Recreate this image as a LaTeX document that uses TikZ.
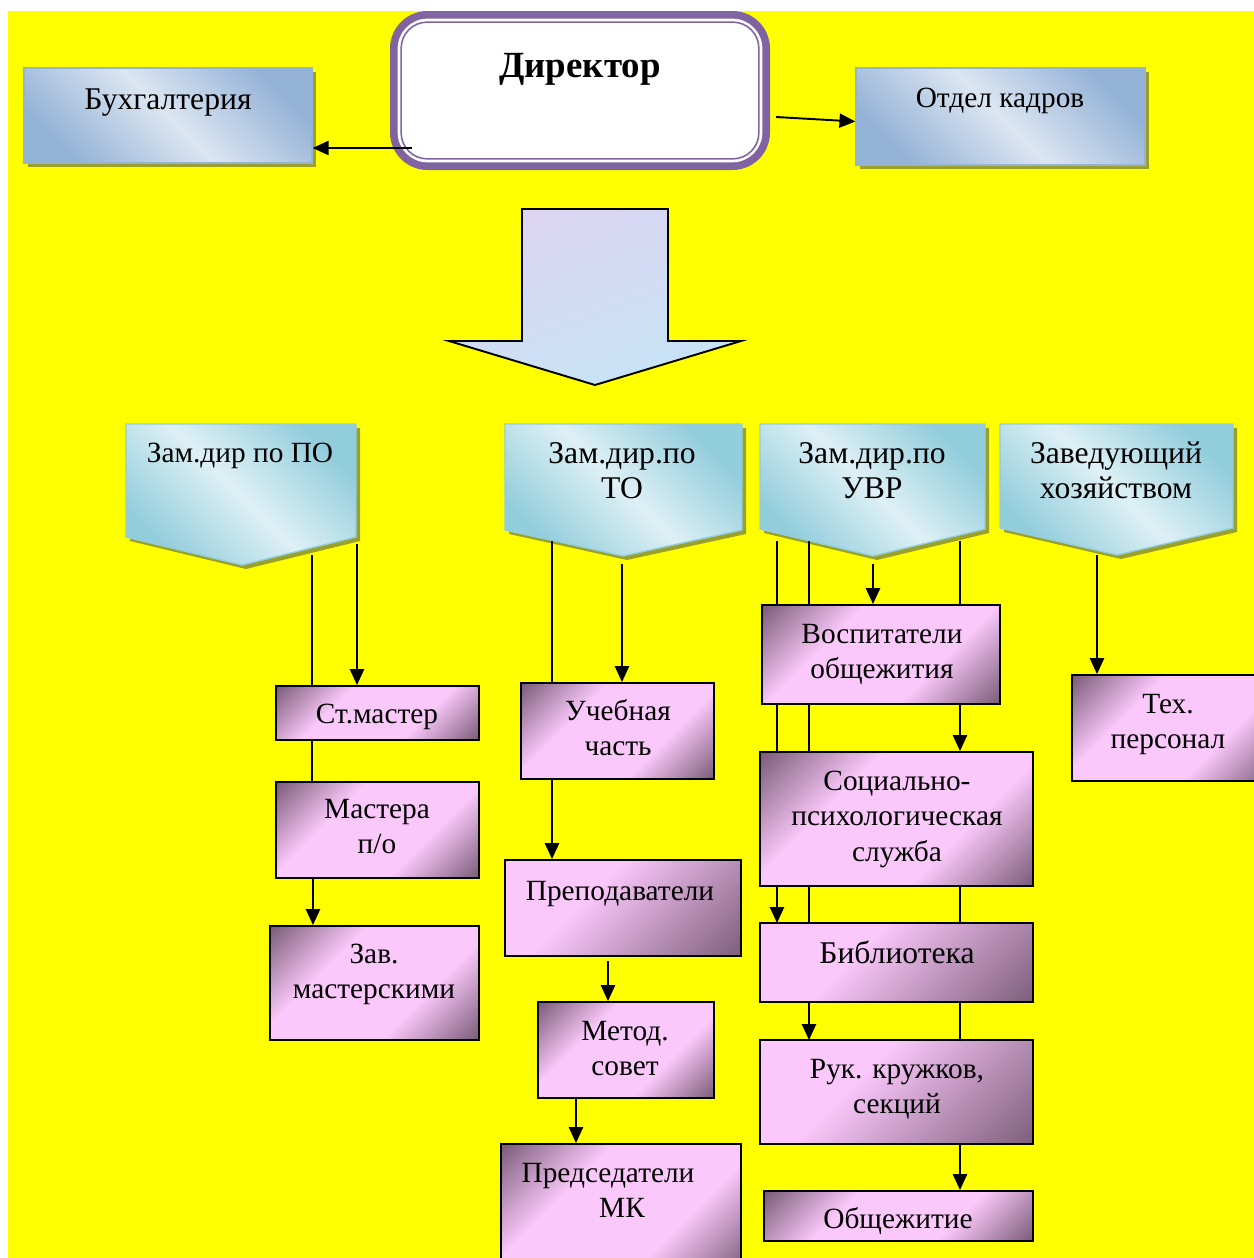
\documentclass[tikz,border=0pt]{standalone}
\usepackage{fontspec}
\setmainfont{Liberation Serif}
\usetikzlibrary{arrows.meta,calc,fit}

\definecolor{bgyellow}{RGB}{255,255,0}
\definecolor{dirpurple}{RGB}{128,100,162}
\definecolor{shadowolive}{RGB}{155,160,40}
\definecolor{blueL}{RGB}{220,230,242}
\definecolor{blueD}{RGB}{149,179,215}
\definecolor{cyanL}{RGB}{222,240,245}
\definecolor{cyanD}{RGB}{146,205,220}
\definecolor{pinkL}{RGB}{250,200,250}
\definecolor{pinkD}{RGB}{118,88,116}
\definecolor{arrowA}{RGB}{220,212,242}
\definecolor{arrowB}{RGB}{198,228,245}

\pgfdeclarehorizontalshading{bluesh}{100bp}{color(0bp)=(blueD); color(25bp)=(blueD); color(50bp)=(blueL); color(75bp)=(blueD); color(100bp)=(blueD)}
\pgfdeclarehorizontalshading{cyansh}{100bp}{color(0bp)=(cyanD); color(25bp)=(cyanD); color(50bp)=(cyanL); color(75bp)=(cyanD); color(100bp)=(cyanD)}
\pgfdeclarehorizontalshading{pinkA}{100bp}{color(0bp)=(pinkD); color(14bp)=(pinkD); color(36bp)=(pinkL); color(64bp)=(pinkL); color(86bp)=(pinkD); color(100bp)=(pinkD)}
\pgfdeclarehorizontalshading{pinkB}{100bp}{color(0bp)=(pinkL); color(40bp)=(pinkL); color(88bp)=(pinkD); color(100bp)=(pinkD)}

\newcommand\twol[1]{\begin{tabular}[t]{@{}c@{}}#1\end{tabular}}

\tikzset{
  conn/.style={line width=1.1pt},
  arr/.style={line width=1.1pt,-{Triangle[length=9pt,width=8pt]}},
  pinkbox/.style={draw=black, line width=1.1pt, shading=pinkA, shading angle=-45, inner sep=0pt, rectangle},
  pinkboxb/.style={draw=black, line width=1.1pt, shading=pinkB, shading angle=-45, inner sep=0pt, rectangle},
  bluebox/.style={draw=blueD, line width=0.8pt, shading=bluesh, shading angle=45, inner sep=0pt, rectangle},
  penta/.style={draw=cyanD, line width=0.8pt, shading=cyansh, shading angle=45},
  shadowfill/.style={fill=shadowolive},
  txt/.style={font=\fontsize{18}{20.4}\selectfont, inner sep=0pt, anchor=base},
  stxt/.style={font=\fontsize{16.7}{20.4}\selectfont, inner sep=0pt, anchor=base},
}

\begin{document}
\begin{tikzpicture}[x=0.02cm,y=-0.02cm]
\useasboundingbox (0,0) rectangle (1254,1258);
\fill[white] (0,0) rectangle (1254,1258);
\fill[bgyellow] (8,11) rectangle (1254,1258);

% ---------- top row ----------
\fill[shadowfill] (28,72) rectangle (316,167);
\node[bluebox, fit={(24,68) (312,163)}] (buh) {};
\node[txt] (buht) at (168,109) {Бухгалтерия};

\fill[shadowfill] (860,72) rectangle (1149,169);
\node[bluebox, fit={(856,68) (1145,165)}] (kadr) {};
\node[stxt] (kadrt) at (1000,107) {Отдел кадров};

\node[fill=dirpurple, rounded corners=0.75cm, inner sep=0pt, rectangle, fit={(390,11) (770,170)}] (dir) {};
\fill[white, rounded corners=0.6cm] ($(dir.north west)+(8,8)$) rectangle ($(dir.south east)+(-8,-8)$);
\draw[dirpurple, line width=0.9pt, rounded corners=0.52cm] ($(dir.north west)+(11.5,11.5)$) rectangle ($(dir.south east)+(-11.5,-11.5)$);
\node[txt, font=\fontsize{21}{24}\selectfont\bfseries] (dirt) at (580,77) {Директор};

\coordinate (dl) at (412,148);
\coordinate (dr) at (776,117);
\draw[arr] (dl) -- (dl -| buh.east);
\draw[arr] (dr) -- ($(kadr.west)+(0,5)$);

% ---------- big block arrow ----------
\draw[line width=1.1pt, left color=arrowA, right color=arrowB, shading angle=20]
  (522,209) coordinate (bigarrow) -- (668,209) -- (668,341) -- (741,341) -- (595,385) -- (449,341) -- (522,341) -- cycle;

% ---------- pentagons ----------
\fill[shadowfill] (130,428) -- (360,428) -- (360,541) -- (246,569) -- (130,541) -- cycle;
\draw[penta] (126,424) -- (356,424) -- (356,537) -- (242,565) -- (126,537) -- cycle;
\node[stxt] (po) at (240,462) {Зам.дир по ПО};

\fill[shadowfill] (509,428) -- (746,428) -- (746,534) -- (627,560) -- (509,534) -- cycle;
\draw[penta] (505,424) -- (742,424) -- (742,530) -- (623,556) -- (505,530) -- cycle;
\node[txt] (to) at (622,463) {\twol{Зам.дир.по\\ТО}};

\fill[shadowfill] (764,428) -- (989,428) -- (989,533) -- (877,560) -- (764,533) -- cycle;
\draw[penta] (760,424) -- (985,424) -- (985,529) -- (873,556) -- (760,529) -- cycle;
\node[txt] (uvr) at (872,463) {\twol{Зам.дир.по\\УВР}};

\fill[shadowfill] (1004,428) -- (1237,428) -- (1237,532) -- (1121,559) -- (1004,532) -- cycle;
\draw[penta] (1000,424) -- (1233,424) -- (1233,528) -- (1117,555) -- (1000,528) -- cycle;
\node[txt] (hoz) at (1116,463) {\twol{Заведующий\\хозяйством}};

% ---------- connector start points ----------
\coordinate (po1) at (312,555);
\coordinate (po2) at (357,544);
\coordinate (to1) at (552,541);
\coordinate (to2) at (622,564);
\coordinate (u1) at (777,541);
\coordinate (u2) at (809,541);
\coordinate (u3) at (873,564);
\coordinate (u4) at (960,541);
\coordinate (h1) at (1097,555);

% ---------- box corners ----------
\path
  (276,686) coordinate (stmA) (479,740) coordinate (stmB)
  (276,782) coordinate (masA) (479,878) coordinate (masB)
  (270,926) coordinate (zavA) (479,1040) coordinate (zavB)
  (521,683) coordinate (ucA) (714,779) coordinate (ucB)
  (505,860) coordinate (prA) (741,956) coordinate (prB)
  (538,1002) coordinate (meA) (714,1098) coordinate (meB)
  (501,1144) coordinate (pdA) (741,1275) coordinate (pdB)
  (762,605) coordinate (voA) (1000,704) coordinate (voB)
  (760,752) coordinate (soA) (1033,886) coordinate (soB)
  (760,923) coordinate (biA) (1033,1002) coordinate (biB)
  (760,1040) coordinate (ruA) (1033,1144) coordinate (ruB)
  (764,1191) coordinate (obA) (1033,1241) coordinate (obB)
  (1072,675) coordinate (teA) (1275,781) coordinate (teB);

% ---------- connectors that run behind boxes ----------
\draw[conn] (po1) -- (po1 |- masA);
\draw[arr] (u1) -- (u1 |- biA);
\draw[arr] (u2) -- (u2 |- ruA);

% ---------- pink boxes ----------
\node[pinkbox, fit=(stmA)(stmB)] (stm) {};
\node[stxt] (stmt) at (377,723) {Ст.мастер};
\node[pinkbox, fit=(masA)(masB)] (mas) {};
\node[stxt] (mast) at (377,818) {\twol{Мастера\\п/о}};
\node[pinkbox, fit=(zavA)(zavB)] (zav) {};
\node[stxt] (zavt) at (374,963) {\twol{Зав.\\мастерскими}};

\node[pinkbox, fit=(ucA)(ucB)] (uc) {};
\node[stxt] (uct) at (618,720) {\twol{Учебная\\часть}};
\node[pinkboxb, fit=(prA)(prB)] (pr) {};
\node[stxt] (prt) at (620,900) {Преподаватели};
\node[pinkbox, fit=(meA)(meB)] (me) {};
\node[stxt] (met) at (625,1040) {\twol{Метод.\\совет}};
\node[pinkbox, fit=(pdA)(pdB)] (pd) {};
\node[stxt] (pdt) at (608,1182) {\twol{Председатели\\\hspace*{16pt}МК}};

\node[pinkbox, fit=(voA)(voB)] (vo) {};
\node[stxt] (vot) at (882,643) {\twol{Воспитатели\\общежития}};
\node[pinkbox, fit=(soA)(soB)] (so) {};
\node[stxt] (sot) at (897,790) {\twol{Социально-\\психологическая\\служба}};
\node[pinkboxb, fit=(biA)(biB)] (bi) {};
\node[txt] (bit) at (897,963) {Библиотека};
\node[pinkboxb, fit=(ruA)(ruB)] (ru) {};
\node[stxt] (rut) at (897,1078) {\twol{Рук. кружков,\\секций}};
\node[pinkbox, fit=(obA)(obB)] (ob) {};
\node[stxt] (obt) at (898,1228) {Общежитие};

\node[pinkbox, fit=(teA)(teB)] (te) {};
\node[stxt] (tet) at (1168,713) {\twol{Тех.\\персонал}};

% ---------- connectors ----------
\draw[arr] (po2) -- (po2 |- stm.north);
\draw[arr] (mas.south -| 313,0) -- (zav.north -| 313,0);

\draw[conn] (to1) -- (to1 |- uc.north);
\draw[arr] (to2) -- (to2 |- uc.north);
\draw[arr] (uc.south -| to1) -- (pr.north -| to1);
\draw[arr] ($(pr.south -| 608,0)+(0,4)$) -- (me.north -| 608,0);
\draw[arr] (me.south -| 576,0) -- (pd.north -| 576,0);

\draw[arr] (u3) -- (u3 |- vo.north);
\draw[conn] (u4) -- (u4 |- vo.north);
\draw[arr] (vo.south -| u4) -- (so.north -| u4);
\draw[conn] (so.south -| u4) -- (bi.north -| u4);
\draw[conn] (bi.south -| u4) -- (ru.north -| u4);
\draw[arr] (ru.south -| u4) -- (ob.north -| u4);

\draw[arr] (h1) -- (h1 |- te.north);
\end{tikzpicture}
\end{document}
